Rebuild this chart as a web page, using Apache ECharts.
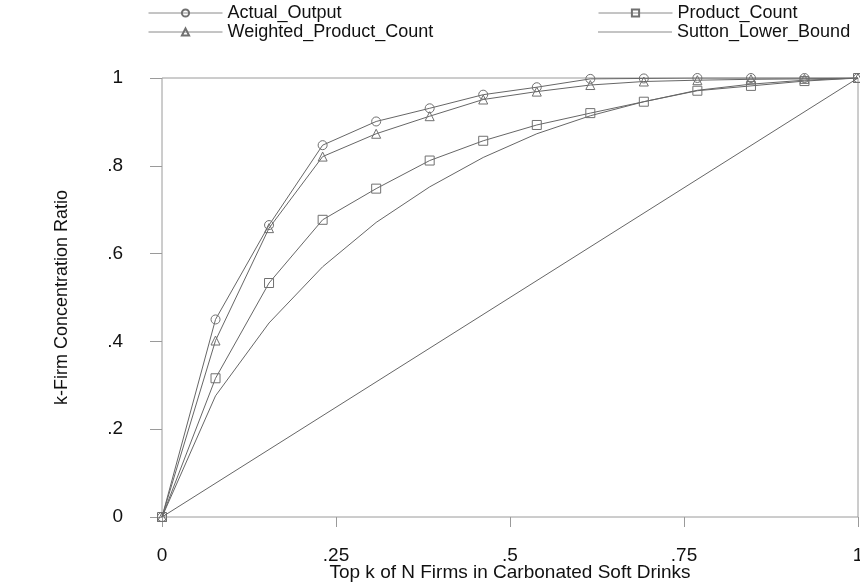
<!DOCTYPE html>
<html>
<head>
<meta charset="utf-8">
<script src="https://cdn.jsdelivr.net/npm/echarts@6/dist/echarts.min.js"></script>
<style>html,body{margin:0;padding:0;background:#fff}#c{width:860px;height:583px}</style>
</head>
<body>
<div id="c"></div>
<script>
// Share of firms: top k of N = 13
const shareK = [0, 0.0769, 0.1538, 0.2308, 0.3077, 0.3846, 0.4615, 0.5385, 0.6154, 0.6923, 0.7692, 0.8462, 0.9231, 1];
const actualOutput = [0, 0.450, 0.665, 0.847, 0.901, 0.931, 0.962, 0.979, 0.998, 0.999, 1, 1, 1, 1];
const productCount = [0, 0.316, 0.533, 0.677, 0.748, 0.812, 0.857, 0.893, 0.920, 0.946, 0.971, 0.982, 0.993, 1];
const weightedProductCount = [0, 0.402, 0.658, 0.821, 0.873, 0.913, 0.951, 0.969, 0.984, 0.992, 0.995, 0.997, 0.998, 1];
const suttonLowerBound = [0, 0.276, 0.442, 0.570, 0.671, 0.752, 0.819, 0.873, 0.914, 0.946, 0.972, 0.986, 0.995, 1];
const diagonalX = [0, 1];
const diagonalY = [0, 1];
const xTicks = [0, 0.25, 0.5, 0.75, 1];
const yTicks = [0, 0.2, 0.4, 0.6, 0.8, 1];

const pair = (xs, ys) => xs.map((x, i) => [x, ys[i]]);
const fmt = v => { const r = Math.round(v * 100) / 100; if (r === 0) return '0'; if (r === 1) return '1'; return String(r).replace(/^0/, ''); };

const LINE = '#666666';
const FONT = 'Liberation Sans';
const TXT = '#111';

function lineSeries(name, data, symbol) {
  return {
    name, type: 'line', data: pair(shareK, data),
    symbol: symbol, symbolSize: 9,
    lineStyle: { color: LINE, width: 1 },
    itemStyle: { color: 'transparent', borderColor: '#707070', borderWidth: 1 },
    emphasis: { disabled: true }, z: 3
  };
}

function legendAt(name, left, top, extra) {
  return Object.assign({
    left, top, data: [name], itemWidth: 74, itemHeight: 9,
    textStyle: { fontFamily: FONT, fontSize: 18, color: TXT },
    lineStyle: { width: 1, color: '#8a8a8a' },
    selectedMode: false, padding: 0
  }, extra || {});
}

const chart = echarts.init(document.getElementById('c'), null, { renderer: 'canvas' });
chart.setOption({
  backgroundColor: '#fff',
  animation: false,
  grid: { left: 162, right: 2, top: 78, bottom: 66, show: true, borderColor: '#9a9a9a', borderWidth: 1, containLabel: false, outerBoundsMode: 'none' },
  legend: [
    legendAt('Actual_Output', 148, 4),
    legendAt('Weighted_Product_Count', 148, 23),
    legendAt('Product_Count', 598, 4),
    legendAt('Sutton_Lower_Bound', 598, 23, { icon: 'rect', itemHeight: 1, itemStyle: { color: '#8a8a8a', borderWidth: 0 } })
  ],
  xAxis: {
    type: 'value', min: 0, max: 1, interval: 0.25, offset: 15,
    name: 'Top k of N Firms in Carbonated Soft Drinks', nameLocation: 'middle', nameGap: 31, nameMoveOverlap: false,
    nameTextStyle: { fontFamily: FONT, fontSize: 19, color: TXT },
    axisLine: { show: false },
    axisTick: { show: true, length: 10, lineStyle: { color: '#9a9a9a' } },
    axisLabel: { fontFamily: FONT, fontSize: 19, color: TXT, margin: 14, formatter: fmt, showMaxLabel: true, showMinLabel: true },
    splitLine: { show: false }
  },
  yAxis: {
    type: 'value', min: 0, max: 1, interval: 0.2, offset: 18,
    name: 'k-Firm Concentration Ratio', nameLocation: 'middle', nameGap: 73, nameRotate: 90, nameMoveOverlap: false,
    nameTextStyle: { fontFamily: FONT, fontSize: 18, color: TXT },
    axisLine: { show: false },
    axisTick: { show: true, length: 12, lineStyle: { color: '#9a9a9a' } },
    axisLabel: { fontFamily: FONT, fontSize: 19, color: TXT, margin: 21, formatter: fmt },
    splitLine: { show: false }
  },
  series: [
    lineSeries('Actual_Output', actualOutput, 'circle'),
    lineSeries('Product_Count', productCount, 'rect'),
    lineSeries('Weighted_Product_Count', weightedProductCount, 'triangle'),
    Object.assign(lineSeries('Sutton_Lower_Bound', suttonLowerBound, 'circle'), { showSymbol: false }),
    {
      name: 'diagonal', type: 'line', data: pair(diagonalX, diagonalY), symbol: 'none',
      lineStyle: { color: LINE, width: 1 }, emphasis: { disabled: true }, z: 2
    }
  ]
});
</script>
</body>
</html>
